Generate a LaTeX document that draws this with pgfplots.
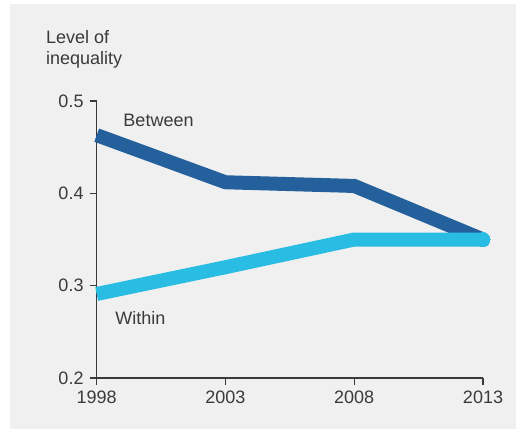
\documentclass[border=0pt]{standalone}
\usepackage{pgfplots}
\pgfplotsset{compat=1.18}
\usepackage{fontspec}
\setmainfont{Liberation Sans}

\definecolor{bgcol}{HTML}{F0F0F0}
\definecolor{darkblue}{HTML}{24609B}
\definecolor{lightblue}{HTML}{29BDE3}
\definecolor{txt}{HTML}{3A3A3A}

\begin{document}
\fontsize{18bp}{21bp}\selectfont
\begin{tikzpicture}[x=1bp,y=1bp]
\fill[white] (0,0) rectangle (516,429);
\fill[bgcol] (10,0) rectangle (516,425);
\node[anchor=base west,inner sep=0,text=txt] at (46,386) {Level of};
\node[anchor=base west,inner sep=0,text=txt] at (46,365) {inequality};
\begin{axis}[
  at={(96.7bp,51bp)}, anchor=south west,
  scale only axis,
  width=386.3bp, height=277bp,
  xmin=1998, xmax=2013,
  ymin=0.2, ymax=0.5,
  axis lines=left,
  axis line style={-, txt, line width=1.2bp},
  xtick={1998,2003,2008,2013},
  ytick={0.2,0.3,0.4,0.5},
  xticklabel={\pgfmathprintnumber[1000 sep={}]{\tick}},
  yticklabel style={/pgf/number format/.cd,fixed,fixed zerofill,precision=1},
  /pgf/number format/assume math mode=true,
  tick align=outside,
  major tick length=7bp,
  tick style={txt, line width=1.2bp},
  ticklabel style={text=txt, font=\fontsize{18bp}{21bp}\selectfont},
  clip=false,
]
% round cap only at the 2013 end
\addplot[darkblue, line width=14bp, line cap=butt, mark=*, mark indices={4},
  mark size=7bp, mark options={line width=0pt, fill=darkblue}]
  coordinates {(1998,0.463) (2003,0.412) (2008,0.408) (2013,0.350)};
\addplot[lightblue, line width=14bp, line cap=butt, mark=*, mark indices={4},
  mark size=7bp, mark options={line width=0pt, fill=lightblue}]
  coordinates {(1998,0.291) (2003,0.320) (2008,0.350) (2013,0.350)};
\node[text=txt] at (axis cs:2000.4,0.479) {Between};
\node[text=txt] at (axis cs:1999.7,0.265) {Within};
\end{axis}
\end{tikzpicture}
\end{document}
